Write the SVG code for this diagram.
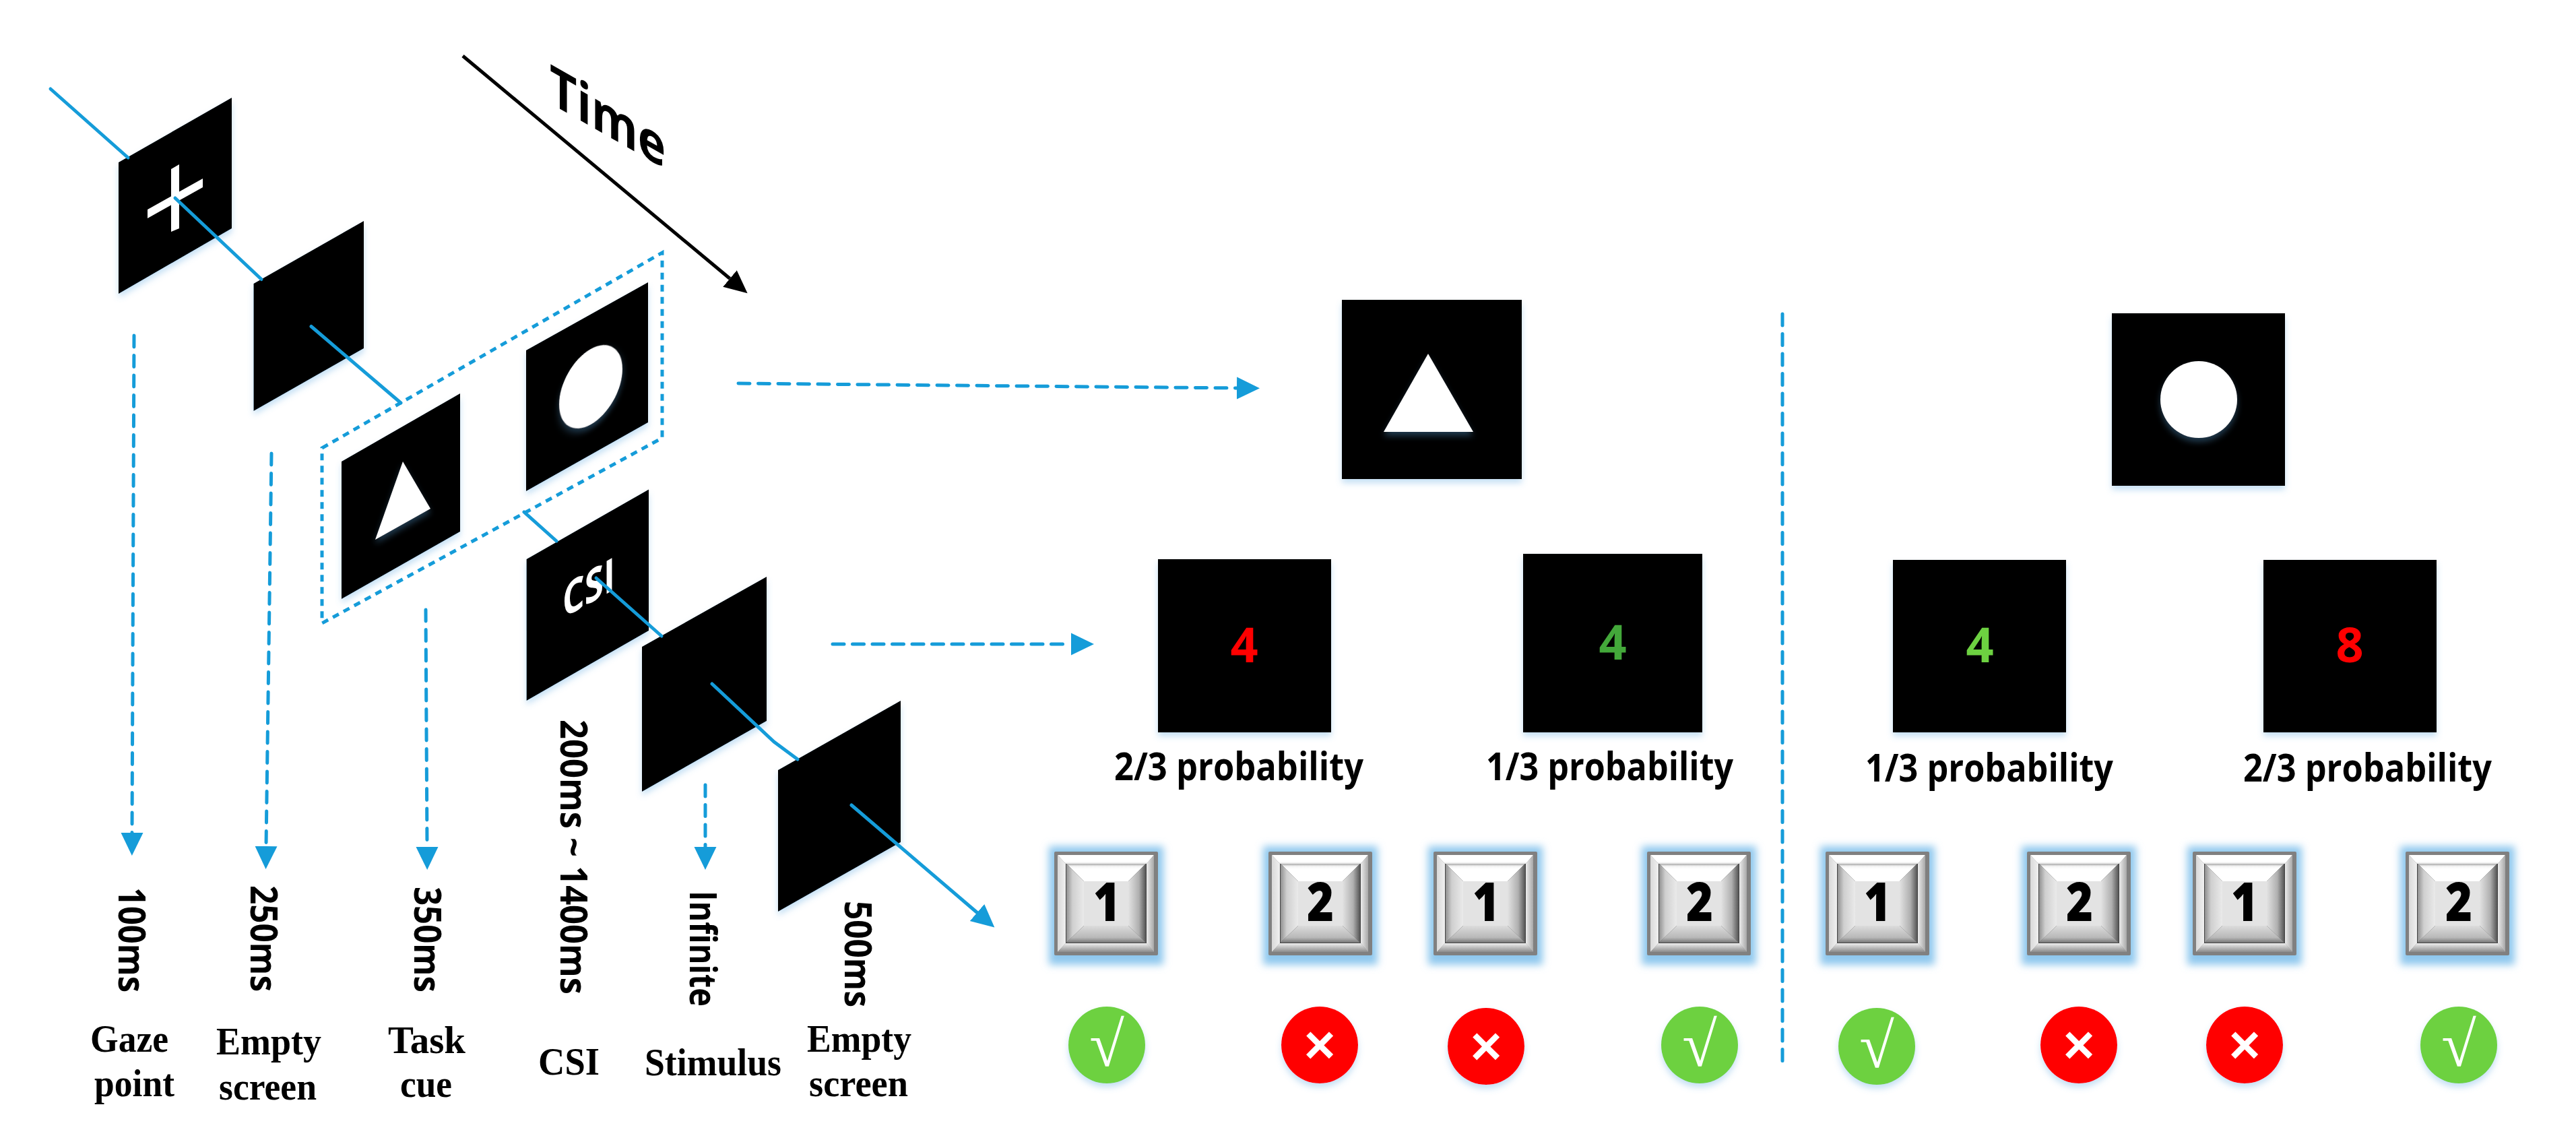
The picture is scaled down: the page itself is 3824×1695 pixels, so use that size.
<svg xmlns="http://www.w3.org/2000/svg" xmlns:xlink="http://www.w3.org/1999/xlink" width="3824" height="1695" viewBox="0 0 3824 1695">
<style>
.panel{fill:#000}
.w{fill:#fff}
.sh{filter:url(#shadow)}
.t{font-family:"Open Sans","Liberation Sans",sans-serif;font-weight:700;fill:#000}
.dur{font-size:56px}
.prob{font-size:58px;text-anchor:start}
.name{font-family:"Liberation Serif",serif;font-weight:700;font-size:58px;fill:#000}
.num{font-family:"Open Sans","Liberation Sans",sans-serif;font-weight:700;font-size:72px;text-anchor:middle}
.key{font-family:"Open Sans","Liberation Sans",sans-serif;font-weight:800;font-size:80px;text-anchor:middle;fill:#000}
.mark{font-family:"Liberation Sans",sans-serif;font-weight:700;text-anchor:middle;fill:#fff}
.root{font-family:"Liberation Serif",serif;font-weight:400;text-anchor:middle;fill:#fff}
.solid{fill:none;stroke:#159cd9;stroke-width:5;stroke-linecap:round}
.dash{fill:none;stroke:#159cd9;stroke-width:5;stroke-linecap:round;stroke-dasharray:17 12.5}
.dot{fill:none;stroke:#159cd9;stroke-width:5;stroke-dasharray:10 8}
.head{marker-end:url(#ah)}
</style>
<defs>
<filter id="shadow" x="-15%" y="-15%" width="130%" height="130%"><feDropShadow dx="0" dy="6" stdDeviation="5" flood-color="#5ba6e0" flood-opacity=".35"/></filter>
<filter id="glow" x="-30%" y="-30%" width="160%" height="160%"><feGaussianBlur stdDeviation="6"/></filter>
<marker id="ah" markerUnits="userSpaceOnUse" markerWidth="36" markerHeight="36" refX="0" refY="18" orient="auto" viewBox="0 0 36 36"><path d="M0 1.5L34 18L0 34.5z" fill="#159cd9"/></marker>
<marker id="ak" markerUnits="userSpaceOnUse" markerWidth="36" markerHeight="36" refX="0" refY="18" orient="auto" viewBox="0 0 36 36"><path d="M0 2L34 18L0 34z" fill="#000"/></marker>
<linearGradient id="gTop" x1="0" y1="0" x2="0" y2="1"><stop offset="0" stop-color="#fff"/><stop offset=".75" stop-color="#fff"/><stop offset="1" stop-color="#e6e6e6"/></linearGradient>
<linearGradient id="gL" x1="0" y1="0" x2="1" y2="0"><stop offset="0" stop-color="#d9d9d9"/><stop offset="1" stop-color="#f0f0f0"/></linearGradient>
<linearGradient id="gR" x1="0" y1="0" x2="1" y2="0"><stop offset="0" stop-color="#ececec"/><stop offset="1" stop-color="#a8a8a8"/></linearGradient>
<linearGradient id="gB" x1="0" y1="0" x2="0" y2="1"><stop offset="0" stop-color="#eeeeee"/><stop offset="1" stop-color="#8c8c8c"/></linearGradient>
<linearGradient id="iT" x1="0" y1="0" x2="0" y2="1"><stop offset="0" stop-color="#a8a8a8"/><stop offset=".15" stop-color="#f5f5f5"/><stop offset=".3" stop-color="#fff"/><stop offset="1" stop-color="#fff"/></linearGradient>
<linearGradient id="iL" x1="0" y1="0" x2="1" y2="0"><stop offset="0" stop-color="#909090"/><stop offset=".35" stop-color="#cfcfcf"/><stop offset="1" stop-color="#eaeaea"/></linearGradient>
<linearGradient id="iR" x1="0" y1="0" x2="1" y2="0"><stop offset="0" stop-color="#e2e2e2"/><stop offset=".6" stop-color="#b0b0b0"/><stop offset="1" stop-color="#555"/></linearGradient>
<linearGradient id="iB" x1="0" y1="0" x2="0" y2="1"><stop offset="0" stop-color="#dcdcdc"/><stop offset=".7" stop-color="#b8b8b8"/><stop offset="1" stop-color="#777"/></linearGradient>
<g id="btn">
<rect x="-8" y="-8" width="170" height="176" fill="#8fc8ee" filter="url(#glow)"/>
<rect x="0" y="0" width="154" height="154" rx="2" fill="#808080"/>
<path d="M5 5H148L137 18H17z" fill="url(#gTop)"/>
<path d="M5 5L17 18V136L5 149z" fill="url(#gL)"/>
<path d="M148 5L137 18V136L148 149z" fill="url(#gR)"/>
<path d="M5 149L17 136H137L148 149z" fill="url(#gB)"/>
<rect x="17" y="18" width="120" height="118" fill="#444"/>
<path d="M18 18H136L110 44H44z" fill="url(#iT)"/>
<path d="M18 18L44 44V110L18 135z" fill="url(#iL)"/>
<path d="M136 18L110 44V110L136 135z" fill="url(#iR)"/>
<path d="M18 135L44 110H110L136 135z" fill="url(#iB)"/>
<rect x="44" y="44" width="66" height="66" fill="#e3e3e3"/>
</g>
<circle id="c-ok" r="57" fill="#6dd141" class="sh"/>
<circle id="c-no" r="57" fill="#ff0000" class="sh"/>
</defs>
<rect width="3824" height="1695" fill="#fff"/>

<g id="gaze-point">
<polygon class="panel sh" points="176,241 344,145 344,339 176,436"/>
<polygon class="w" points="254,251 266,244 266,339 254,344"/>
<polygon class="w" points="219,311 301,265 301,278 219,324"/>
<text class="t dur" transform="translate(176,1317) rotate(90)" textLength="156" lengthAdjust="spacingAndGlyphs">100ms</text>
<text class="name" x="134" y="1561" textLength="116" lengthAdjust="spacingAndGlyphs">Gaze</text>
<text class="name" x="140" y="1627" textLength="119" lengthAdjust="spacingAndGlyphs">point</text>
</g>
<g id="empty-screen-1">
<polygon class="panel sh" points="376.500,421 540,328 540,517 376.500,610"/>
<text class="t dur" transform="translate(372,1314) rotate(90)" textLength="158" lengthAdjust="spacingAndGlyphs">250ms</text>
<text class="name" x="321" y="1565" textLength="156" lengthAdjust="spacingAndGlyphs">Empty</text>
<text class="name" x="325" y="1632" textLength="145" lengthAdjust="spacingAndGlyphs">screen</text>
</g>
<g id="task-cue">
<polygon class="dot" points="478,665 983,375 983,650 478,925"/>
<polygon class="panel sh" points="507,685 683,584 683,789 507,889"/>
<polygon class="w sh" points="598,685 639,755 557,801"/>
<polygon class="panel sh" points="781,520 962,419 962,627 781,729"/>
<ellipse class="w sh" rx="47" ry="56" transform="matrix(1,-.56,0,1,877,574)"/>
<text class="t dur" transform="translate(615,1316) rotate(90)" textLength="157" lengthAdjust="spacingAndGlyphs">350ms</text>
<text class="name" x="576" y="1563" textLength="115" lengthAdjust="spacingAndGlyphs">Task</text>
<text class="name" x="594" y="1628" textLength="77" lengthAdjust="spacingAndGlyphs">cue</text>
</g>
<g id="csi">
<polygon class="panel sh" points="781.600,830 963,726.500 963,936 781.600,1040"/>
<text class="t" style="fill:#fff;font-size:68px" transform="matrix(1,-.56,0,1,835,918)" textLength="78" lengthAdjust="spacingAndGlyphs">CSI</text>
<text class="t dur" transform="translate(832,1068) rotate(90)" textLength="408" lengthAdjust="spacingAndGlyphs">200ms ~ 1400ms</text>
<text class="name" x="799" y="1595" textLength="91" lengthAdjust="spacingAndGlyphs">CSI</text>
</g>
<g id="stimulus">
<polygon class="panel sh" points="953,960 1138,856 1138,1070 953,1175"/>
<text class="t dur" transform="translate(1024,1322) rotate(90)" textLength="172" lengthAdjust="spacingAndGlyphs">Infinite</text>
<text class="name" x="957" y="1596" textLength="203" lengthAdjust="spacingAndGlyphs">Stimulus</text>
</g>
<g id="empty-screen-2">
<polygon class="panel sh" points="1155,1143 1337,1040 1337,1250 1155,1353"/>
<text class="t dur" transform="translate(1254,1337) rotate(90)" textLength="158" lengthAdjust="spacingAndGlyphs">500ms</text>
<text class="name" x="1198" y="1561" textLength="155" lengthAdjust="spacingAndGlyphs">Empty</text>
<text class="name" x="1201" y="1627" textLength="147" lengthAdjust="spacingAndGlyphs">screen</text>
</g>
<g id="time-label">
<text class="t" style="font-size:82px" transform="matrix(1,.57,0,1,816,153)" textLength="172" lengthAdjust="spacingAndGlyphs">Time</text>
</g>

<g id="triangle-cue">
<rect class="panel sh" x="1992" y="445" width="267" height="266"/>
<polygon class="w sh" points="2120,525 2187,641 2054,641"/>
</g>
<g id="circle-cue">
<rect class="panel sh" x="3135" y="465" width="257" height="256"/>
<circle class="w sh" cx="3264" cy="593" r="57"/>
</g>
<g id="stim-red-4">
<rect class="panel sh" x="1719" y="830" width="257" height="257"/>
<text class="num" x="1847" y="983" fill="#f00">4</text>
<text class="t prob" x="1654" y="1158" textLength="370" lengthAdjust="spacingAndGlyphs">2/3 probability</text>
</g>
<g id="stim-green-4a">
<rect class="panel sh" x="2261" y="822" width="266" height="265"/>
<text class="num" x="2394" y="979" fill="#43a83a">4</text>
<text class="t prob" x="2206" y="1158" textLength="367" lengthAdjust="spacingAndGlyphs">1/3 probability</text>
</g>
<g id="stim-green-4b">
<rect class="panel sh" x="2810" y="831" width="257" height="256"/>
<text class="num" x="2939" y="983" fill="#6dd141">4</text>
<text class="t prob" x="2769" y="1160" textLength="368" lengthAdjust="spacingAndGlyphs">1/3 probability</text>
</g>
<g id="stim-red-8">
<rect class="panel sh" x="3360" y="831" width="257" height="256"/>
<text class="num" x="3488" y="983" fill="#f00">8</text>
<text class="t prob" x="3330" y="1160" textLength="369" lengthAdjust="spacingAndGlyphs">2/3 probability</text>
</g>

<g id="key-1a"><use href="#btn" x="1565" y="1264"/><text class="key" x="1643" y="1367" textLength="40" lengthAdjust="spacingAndGlyphs">1</text></g>
<g id="key-2a"><use href="#btn" x="1883" y="1264"/><text class="key" x="1960" y="1367" textLength="40" lengthAdjust="spacingAndGlyphs">2</text></g>
<g id="key-1b"><use href="#btn" x="2128" y="1264"/><text class="key" x="2206" y="1367" textLength="40" lengthAdjust="spacingAndGlyphs">1</text></g>
<g id="key-2b"><use href="#btn" x="2445" y="1264"/><text class="key" x="2523" y="1367" textLength="40" lengthAdjust="spacingAndGlyphs">2</text></g>
<g id="key-1c"><use href="#btn" x="2710" y="1264"/><text class="key" x="2787" y="1367" textLength="40" lengthAdjust="spacingAndGlyphs">1</text></g>
<g id="key-2c"><use href="#btn" x="3009" y="1264"/><text class="key" x="3087" y="1367" textLength="40" lengthAdjust="spacingAndGlyphs">2</text></g>
<g id="key-1d"><use href="#btn" x="3255" y="1264"/><text class="key" x="3332" y="1367" textLength="40" lengthAdjust="spacingAndGlyphs">1</text></g>
<g id="key-2d"><use href="#btn" x="3571" y="1264"/><text class="key" x="3650" y="1367" textLength="40" lengthAdjust="spacingAndGlyphs">2</text></g>

<g id="res-1"><use href="#c-ok" x="1643" y="1551"/><text class="root" x="1643" y="1582" font-size="94">√</text></g>
<g id="res-2"><use href="#c-no" x="1959" y="1551"/><text class="mark" x="1959" y="1578" font-size="80">×</text></g>
<g id="res-3"><use href="#c-no" x="2206" y="1553"/><text class="mark" x="2206" y="1580" font-size="80">×</text></g>
<g id="res-4"><use href="#c-ok" x="2523" y="1551"/><text class="root" x="2523" y="1582" font-size="94">√</text></g>
<g id="res-5"><use href="#c-ok" x="2786" y="1553"/><text class="root" x="2786" y="1584" font-size="94">√</text></g>
<g id="res-6"><use href="#c-no" x="3086" y="1551"/><text class="mark" x="3086" y="1578" font-size="80">×</text></g>
<g id="res-7"><use href="#c-no" x="3332" y="1551"/><text class="mark" x="3332" y="1578" font-size="80">×</text></g>
<g id="res-8"><use href="#c-ok" x="3650" y="1551"/><text class="root" x="3650" y="1582" font-size="94">√</text></g>

<g id="connectors">
<line x1="687" y1="83" x2="1083.500" y2="413.500" fill="none" stroke="#000" stroke-width="5" marker-end="url(#ak)"/>
<line class="solid" x1="75" y1="132" x2="190" y2="234"/>
<line class="solid" x1="260" y1="294" x2="388" y2="414.500"/>
<line class="solid" x1="462" y1="484.500" x2="595" y2="598"/>
<line class="solid" x1="778" y1="760" x2="826" y2="803"/>
<line class="solid" x1="885" y1="858" x2="982" y2="944"/>
<polyline class="solid" points="1057,1015 1149,1101 1184,1127"/>
<line class="solid head" x1="1264" y1="1195" x2="1450.500" y2="1354.500"/>
<line class="dash head" x1="199" y1="498" x2="196" y2="1236"/>
<line class="dash head" x1="403" y1="673" x2="395" y2="1256"/>
<line class="dash head" x1="632" y1="905" x2="634" y2="1257"/>
<line class="dash head" x1="1047" y1="1165" x2="1047" y2="1257"/>
<line class="dash head" x1="1096" y1="569" x2="1836" y2="576"/>
<line class="dash head" x1="1236" y1="956" x2="1590" y2="956"/>
<line class="dash" x1="2646" y1="466" x2="2646" y2="1586"/>
</g>
</svg>
